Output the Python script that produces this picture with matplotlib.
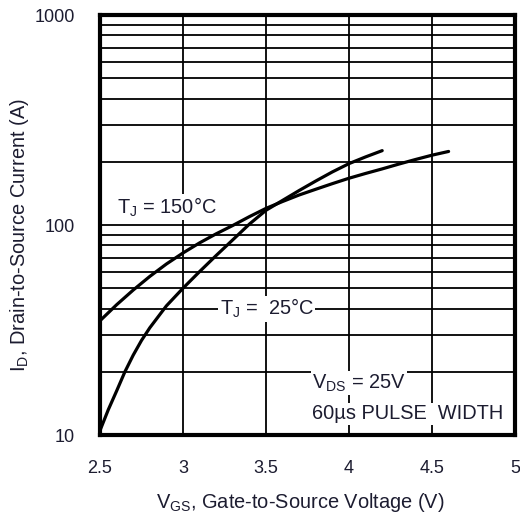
import matplotlib
matplotlib.use("Agg")
import matplotlib.pyplot as plt
from matplotlib.ticker import FixedLocator, NullFormatter

plt.rcParams['font.family'] = ['Liberation Sans', 'DejaVu Sans']
plt.rcParams['mathtext.fontset'] = 'custom'
plt.rcParams['mathtext.rm'] = 'Liberation Sans'
plt.rcParams['mathtext.it'] = 'Liberation Sans'

# data
vgs_25 = [2.5, 2.55, 2.6, 2.65, 2.7, 2.75, 2.8, 2.9, 3.0, 3.1, 3.2, 3.3, 3.4, 3.5, 3.6, 3.7, 3.8, 3.9, 4.0, 4.1, 4.2]
id_25 = [10.5, 13.2, 16.2, 20.0, 24.0, 28.2, 32.4, 41.2, 50.0, 60.0, 71.6, 85.0, 101.0, 117.5, 131.0, 146.0, 162.0, 179.0, 196.0, 211.0, 226.0]
vgs_150 = [2.5, 2.6, 2.7, 2.8, 2.9, 3.0, 3.1, 3.2, 3.3, 3.4, 3.5, 3.6, 3.7, 3.8, 3.9, 4.0, 4.1, 4.2, 4.3, 4.4, 4.5, 4.6]
id_150 = [35.0, 41.7, 49.0, 56.9, 65.2, 73.6, 82.2, 90.8, 99.5, 109.6, 120.0, 129.4, 139.0, 148.0, 157.4, 167.0, 176.0, 185.0, 195.0, 205.0, 215.0, 224.0]

x_ticks = [2.5, 3, 3.5, 4, 4.5, 5]
x_tick_labels = ["2.5", "3", "3.5", "4", "4.5", "5"]
y_ticks = [10, 100, 1000]
y_tick_labels = ["10", "100", "1000"]
y_grid = [20, 30, 40, 50, 60, 70, 80, 90, 100, 200, 300, 400, 500, 600, 700, 800, 900]
x_grid = [3, 3.5, 4, 4.5]

txt_color = '#1c1c30'
W, H = 520, 521

fig = plt.figure(figsize=(W / 100, H / 100), dpi=100)
ax = fig.add_axes([100 / W, (H - 435) / H, 415 / W, 420 / H])
ax.set_yscale('log')
ax.set_xlim(2.5, 5)
ax.set_ylim(10, 1000)

for g in y_grid:
    ax.axhline(g, color='black', lw=1.3, zorder=1)
for g in x_grid:
    ax.axvline(g, color='black', lw=1.3, zorder=1)

ax.plot(vgs_25, id_25, color='black', lw=2.3, zorder=3, solid_capstyle='round', solid_joinstyle='round')
ax.plot(vgs_150, id_150, color='black', lw=2.3, zorder=3, solid_capstyle='round', solid_joinstyle='round')

ax.xaxis.set_major_locator(FixedLocator(x_ticks))
ax.set_xticklabels(x_tick_labels)
ax.yaxis.set_major_locator(FixedLocator(y_ticks))
ax.yaxis.set_minor_locator(FixedLocator([]))
ax.yaxis.set_minor_formatter(NullFormatter())
ax.set_yticklabels(y_tick_labels)
ax.tick_params(axis='both', length=0, labelsize=13, colors=txt_color)
ax.tick_params(axis='x', pad=18)
ax.tick_params(axis='y', pad=18)
for s in ax.spines.values():
    s.set_linewidth(3.0)
    s.set_color('black')

fig.text(300 / W, 1 - 508 / H, "V$_\\mathrm{GS}$, Gate-to-Source Voltage (V)", fontsize=14.4,
         color=txt_color, ha='center', va='baseline')
fig.text(8 / W, 1 - 235 / H, "I$_\\mathrm{D}$, Drain-to-Source Current (A)", fontsize=14.4,
         color=txt_color, ha='left', va='center', rotation=90)

bbox = dict(facecolor='white', edgecolor='none', pad=1.0)
ax.text(2.6, 122, "T$_\\mathrm{J}$ = 150°C", fontsize=14.4, color=txt_color, va='center', ha='left', bbox=bbox, zorder=2)
ax.text(3.22, 40, "T$_\\mathrm{J}$ =  25°C", fontsize=14.4, color=txt_color, va='center', ha='left', bbox=bbox, zorder=2)
ax.text(3.777, 17.7, "V$_\\mathrm{DS}$ = 25V", fontsize=14.4, color=txt_color, va='center', ha='left', bbox=bbox, zorder=2)
ax.text(3.777, 12.6, "60µs PULSE  WIDTH", fontsize=14.4, color=txt_color, va='center', ha='left', bbox=bbox, zorder=2)

fig.savefig("out.png", dpi=100)
